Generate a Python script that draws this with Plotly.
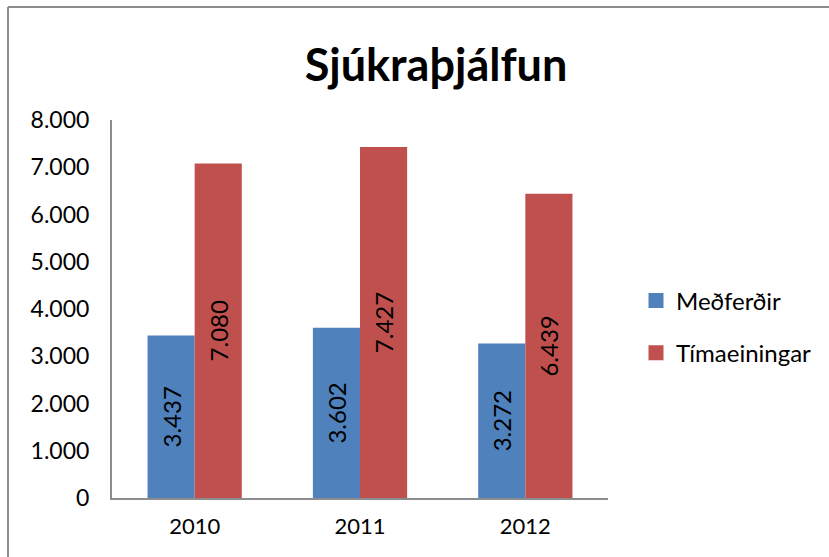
import plotly.graph_objects as go

years = ["2010", "2011", "2012"]
medferdir = [3437, 3602, 3272]
timaeiningar = [7080, 7427, 6439]
series_names = ["Meðferðir", "Tímaeiningar"]
colors = ["#4F81BD", "#C0504D"]
y_ticks = [0, 1000, 2000, 3000, 4000, 5000, 6000, 7000, 8000]

FONT = "Lato"


def fmt(v):
    return f"{v:,}".replace(",", ".")


W, H = 829, 557
ML, MR, MT, MB = 112, 221, 120, 59
PW, PH = W - ML - MR, H - MT - MB

fig = go.Figure()
for name, vals, col in zip(series_names, [medferdir, timaeiningar], colors):
    fig.add_trace(go.Bar(
        x=years, y=vals, name=name,
        marker=dict(color=col, line=dict(width=0)),
        text=[fmt(v) for v in vals],
        textposition="inside", insidetextanchor="middle", textangle=-90,
        textfont=dict(family=FONT, size=24, color="black"),
        showlegend=False, cliponaxis=False,
    ))

# legend entries with square swatches
for i, (name, col) in enumerate(zip(series_names, colors)):
    fig.add_trace(go.Scatter(
        x=[None], y=[None], mode="markers", name=name,
        marker=dict(symbol="square", size=15, color=col),
        legendgroup=f"g{i}", showlegend=True,
    ))

# outer chart frame (left and top edges visible)
px0 = (8 - ML) / PW
py1 = 1 + (MT - 7) / PH
fig.add_shape(type="line", xref="paper", yref="paper", x0=px0, x1=px0, y0=-1, y1=py1,
              line=dict(color="#8C8C8C", width=2))
fig.add_shape(type="line", xref="paper", yref="paper", x0=px0, x1=3, y0=py1, y1=py1,
              line=dict(color="#8C8C8C", width=2))

fig.update_layout(
    width=W, height=H,
    margin=dict(l=ML, r=MR, t=MT, b=MB),
    paper_bgcolor="white", plot_bgcolor="white",
    separators=",.",
    barmode="group", bargap=0.43, bargroupgap=0,
    font=dict(family=FONT, size=22, color="black"),
    title=dict(text="<b>Sjúkraþjálfun</b>", x=436 / W, xanchor="center",
               y=1 - 65 / H, yanchor="middle",
               font=dict(family=FONT, size=45, color="black")),
    legend=dict(x=(636 - ML) / PW, xanchor="left", y=(498 - 327) / PH, yanchor="middle",
                font=dict(family=FONT, size=24, color="black"),
                tracegroupgap=18, bgcolor="rgba(0,0,0,0)"),
    xaxis=dict(showline=True, linecolor="#8C8C8C", linewidth=2, ticks="",
               showgrid=False, tickfont=dict(family=FONT, size=22), ticklabelstandoff=8),
    yaxis=dict(range=[0, 8000], tickvals=y_ticks, ticktext=[fmt(v) for v in y_ticks],
               showline=True, linecolor="#8C8C8C", linewidth=2, ticks="",
               showgrid=False, zeroline=False, tickfont=dict(family=FONT, size=23),
               ticklabelstandoff=16),
)

fig.write_html("out.html")
